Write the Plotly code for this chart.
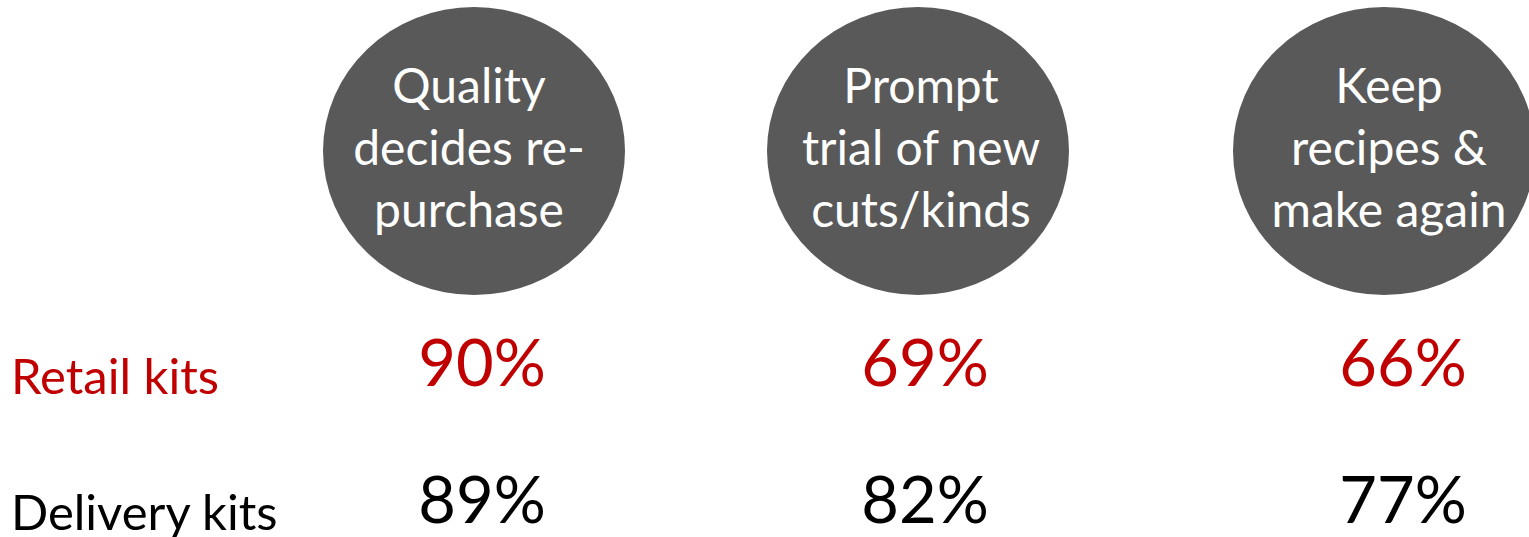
import plotly.graph_objects as go

categories = ["Quality<br>decides re-<br>purchase", "Prompt<br>trial of new<br>cuts/kinds", "Keep<br>recipes &<br>make again"]
series_names = ["Retail kits", "Delivery kits"]
retail_values = [90, 69, 66]
delivery_values = [89, 82, 77]

W, H = 1529, 537
circle_cx = [474, 918, 1384]
text_cx = [469, 921, 1389]
circle_cy = 151
rx, ry = 151, 144
value_cx = [482, 925, 1403]
row_y = [370, 507]
label_y = [375, 511]
row_colors = ["#C00000", "#000000"]
FONT = "Lato"

fig = go.Figure()

for cx in circle_cx:
    fig.add_shape(type="circle", xref="x", yref="y",
                  x0=cx - rx, x1=cx + rx, y0=circle_cy - ry, y1=circle_cy + ry,
                  fillcolor="#595959", line=dict(width=0), layer="below")

fig.add_trace(go.Scatter(
    x=text_cx, y=[circle_cy + 2] * len(categories), mode="text",
    text=categories, textposition="middle center",
    textfont=dict(family=FONT, size=48, color="white"),
    hoverinfo="skip", showlegend=False))

for i, vals in enumerate([retail_values, delivery_values]):
    fig.add_trace(go.Scatter(
        x=value_cx, y=[row_y[i]] * len(vals), mode="text",
        text=[f"{v}%" for v in vals], textposition="middle center",
        textfont=dict(family=FONT, size=65, color=row_colors[i]),
        hoverinfo="skip", showlegend=False, name=series_names[i]))
    fig.add_annotation(x=9, y=label_y[i], xref="x", yref="y",
                       text=series_names[i], showarrow=False,
                       xanchor="left", yanchor="middle",
                       font=dict(family=FONT, size=49, color=row_colors[i]))

fig.update_layout(
    width=W, height=H, margin=dict(l=0, r=0, t=0, b=0),
    paper_bgcolor="white", plot_bgcolor="white",
    xaxis=dict(range=[0, W], visible=False, fixedrange=True),
    yaxis=dict(range=[H, 0], visible=False, fixedrange=True),
)

fig.write_html("out.html")
